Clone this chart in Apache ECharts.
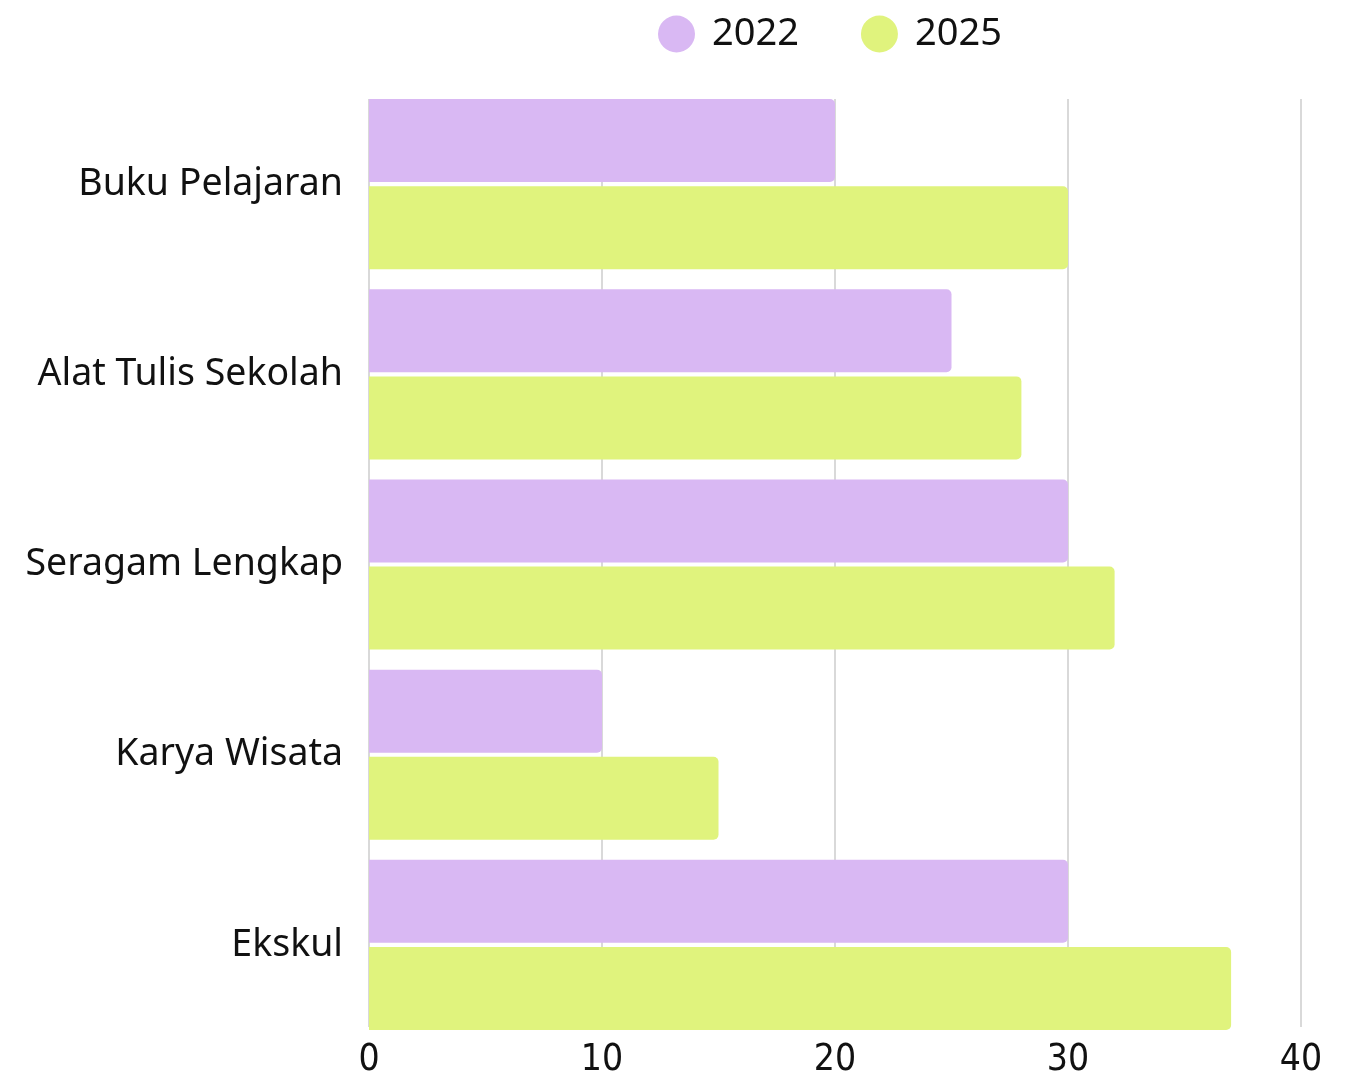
<!DOCTYPE html>
<html>
<head>
<meta charset="utf-8">
<script src="https://cdn.jsdelivr.net/npm/echarts@6/dist/echarts.min.js"></script>
<style>
  html, body { margin: 0; padding: 0; background: #fff; }
  #chart { width: 1350px; height: 1079px; }
</style>
</head>
<body>
<div id="chart"></div>
<script>
  // kategori pengeluaran
  const categories = ['Buku Pelajaran', 'Alat Tulis Sekolah', 'Seragam Lengkap', 'Karya Wisata', 'Ekskul']
  const seriesNames = ['2022', '2025']
  const values2022 = [20, 25, 30, 10, 30]
  const values2025 = [30, 28, 32, 15, 37]
  const xTicks = [0, 10, 20, 30, 40]

  const labelFont = 'Noto Sans'
  const tickFont = '"DejaVu Sans Condensed", "Noto Sans"'

  const chart = echarts.init(document.getElementById('chart'))

  chart.setOption({
    animation: false,
    legend: {
      data: seriesNames,
      top: 10,
      left: 653,
      icon: 'circle',
      itemWidth: 37,
      itemHeight: 37,
      itemGap: 62,
      textStyle: {
        fontFamily: labelFont,
        fontSize: 38,
        color: '#111',
        padding: [0, 0, 0, 12]
      }
    },
    grid: [
      // grid untuk garis bantu dan label sumbu x
      { left: 369, right: 49, top: 99, bottom: 49 },
      // grid untuk batang
      { left: 369, right: 49, top: 89, bottom: 39 }
    ],
    xAxis: [
      {
        gridIndex: 0,
        type: 'value',
        min: xTicks[0],
        max: xTicks[xTicks.length - 1],
        interval: 10,
        axisLine: { show: false },
        axisTick: { show: false },
        axisLabel: {
          margin: 15,
          fontFamily: tickFont,
          fontSize: 37,
          color: '#111'
        },
        splitLine: { lineStyle: { color: '#cccccc', width: 1.5 } }
      },
      {
        gridIndex: 1,
        type: 'value',
        min: xTicks[0],
        max: xTicks[xTicks.length - 1],
        show: false
      }
    ],
    yAxis: [
      {
        gridIndex: 0,
        type: 'category',
        data: categories,
        show: false
      },
      {
        gridIndex: 1,
        type: 'category',
        data: categories,
        inverse: true,
        axisLine: { show: false },
        axisTick: { show: false },
        axisLabel: {
          margin: 26,
          fontFamily: labelFont,
          fontSize: 37.5,
          color: '#111'
        }
      }
    ],
    series: [
      {
        name: seriesNames[0],
        type: 'bar',
        xAxisIndex: 1,
        yAxisIndex: 1,
        data: values2022,
        barWidth: 83,
        barGap: '5%',
        itemStyle: { color: '#d9b8f3', borderRadius: [0, 5, 5, 0] }
      },
      {
        name: seriesNames[1],
        type: 'bar',
        xAxisIndex: 1,
        yAxisIndex: 1,
        data: values2025,
        barWidth: 83,
        barGap: '5%',
        itemStyle: { color: '#e0f37d', borderRadius: [0, 5, 5, 0] }
      }
    ]
  })
</script>
</body>
</html>
